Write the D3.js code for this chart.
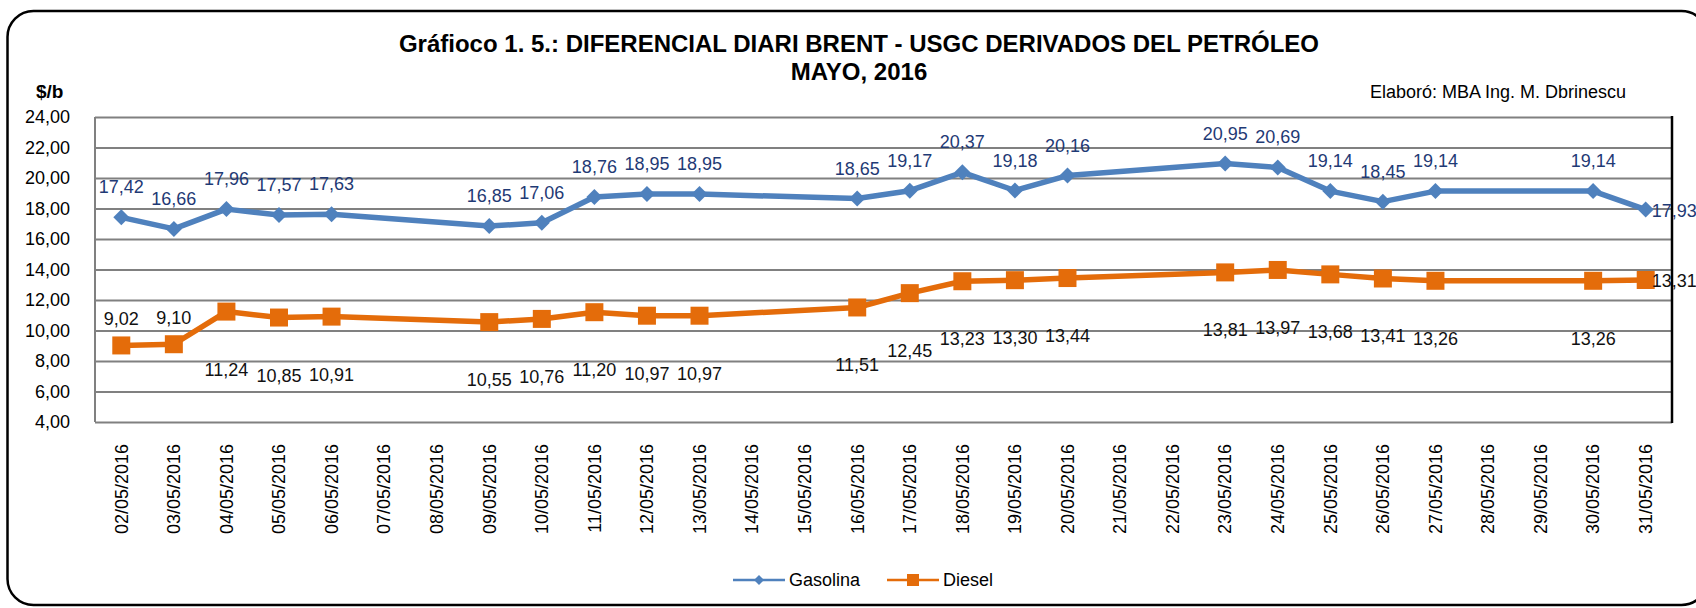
<!DOCTYPE html>
<html>
<head>
<meta charset="utf-8">
<script src="https://cdn.jsdelivr.net/npm/d3@7"></script>
<style>
  body { margin: 0; background: #fff; }
  svg { display: block; font-family: "Liberation Sans", Arial, sans-serif; }
  .grid line { stroke: #808080; stroke-width: 2; }
  .axis text { font-size: 18px; fill: #000; }
  .label { font-size: 18px; }
</style>
</head>
<body>
<svg id="chart"></svg>
<script>
// categories
const dates = [
  '02/05/2016','03/05/2016','04/05/2016','05/05/2016','06/05/2016','07/05/2016',
  '08/05/2016','09/05/2016','10/05/2016','11/05/2016','12/05/2016','13/05/2016',
  '14/05/2016','15/05/2016','16/05/2016','17/05/2016','18/05/2016','19/05/2016',
  '20/05/2016','21/05/2016','22/05/2016','23/05/2016','24/05/2016','25/05/2016',
  '26/05/2016','27/05/2016','28/05/2016','29/05/2016','30/05/2016','31/05/2016'
];

// series values (null = no quote that day, weekends)
const gasolina = [
  17.42, 16.66, 17.96, 17.57, 17.63, null, null, 16.85, 17.06, 18.76,
  18.95, 18.95, null, null, 18.65, 19.17, 20.37, 19.18, 20.16, null,
  null, 20.95, 20.69, 19.14, 18.45, 19.14, null, null, 19.14, 17.93
];
const diesel = [
  9.02, 9.10, 11.24, 10.85, 10.91, null, null, 10.55, 10.76, 11.20,
  10.97, 10.97, null, null, 11.51, 12.45, 13.23, 13.30, 13.44, null,
  null, 13.81, 13.97, 13.68, 13.41, 13.26, null, null, 13.26, 13.31
];

const yTicks = [4, 6, 8, 10, 12, 14, 16, 18, 20, 22, 24];

class LineChart {

  constructor(_config) {
    this.config = {
      parentElement: _config.parentElement,
      containerWidth: _config.containerWidth || 1696,
      containerHeight: _config.containerHeight || 608,
      margin: _config.margin || {top: 117, right: 24, bottom: 186, left: 95}
    }
    this.initVis();
  }

  initVis() {
    let vis = this;

    vis.width = vis.config.containerWidth - vis.config.margin.left - vis.config.margin.right;
    vis.height = vis.config.containerHeight - vis.config.margin.top - vis.config.margin.bottom;

    // comma as decimal separator
    vis.locale = d3.formatLocale({decimal: ',', thousands: '.', grouping: [3], currency: ['$', '']});
    vis.fmt = vis.locale.format('.2f');

    vis.xScale = d3.scaleBand()
        .domain(dates)
        .range([0, vis.width]);

    vis.yScale = d3.scaleLinear()
        .domain([4, 24])
        .range([vis.height, 0]);

    vis.svg = d3.select(vis.config.parentElement)
        .attr('width', vis.config.containerWidth)
        .attr('height', vis.config.containerHeight);

    // outer rounded frame
    vis.svg.append('rect')
        .attr('x', 7.5)
        .attr('y', 11)
        .attr('width', 1700)
        .attr('height', 594)
        .attr('rx', 26)
        .attr('fill', 'none')
        .attr('stroke', '#000')
        .attr('stroke-width', 2.5);

    // titles
    vis.svg.append('text')
        .attr('x', 859)
        .attr('y', 52)
        .attr('text-anchor', 'middle')
        .style('font-size', '24px')
        .style('font-weight', 'bold')
        .text('Gráfioco 1. 5.: DIFERENCIAL DIARI BRENT - USGC DERIVADOS DEL PETRÓLEO');

    vis.svg.append('text')
        .attr('x', 859)
        .attr('y', 80)
        .attr('text-anchor', 'middle')
        .style('font-size', '24px')
        .style('font-weight', 'bold')
        .text('MAYO, 2016');

    vis.svg.append('text')
        .attr('x', 1626)
        .attr('y', 98)
        .attr('text-anchor', 'end')
        .style('font-size', '18px')
        .text('Elaboró: MBA Ing. M. Dbrinescu');

    vis.svg.append('text')
        .attr('x', 36)
        .attr('y', 98)
        .style('font-size', '19px')
        .style('font-weight', 'bold')
        .text('$/b');

    vis.chart = vis.svg.append('g')
        .attr('transform', `translate(${vis.config.margin.left},${vis.config.margin.top})`);

    vis.yAxis = d3.axisLeft(vis.yScale)
        .tickValues(yTicks)
        .tickSize(-vis.width)
        .tickPadding(25)
        .tickFormat(vis.fmt);

    vis.xAxis = d3.axisBottom(vis.xScale)
        .tickSize(0);

    vis.yAxisG = vis.chart.append('g')
        .attr('class', 'axis grid y-axis');

    vis.xAxisG = vis.chart.append('g')
        .attr('class', 'axis x-axis')
        .attr('transform', `translate(0,${vis.height})`);

    vis.updateVis();
  }

  updateVis() {
    let vis = this;

    vis.xValue = d => vis.xScale(d.date) + vis.xScale.bandwidth() / 2;
    vis.yValue = d => vis.yScale(d.value);

    vis.series = [
      {name: 'Gasolina', values: gasolina, color: '#4F81BD', labelColor: '#1F3A75', symbol: 'diamond'},
      {name: 'Diesel', values: diesel, color: '#E46C0A', labelColor: '#111', symbol: 'square'}
    ].map(s => ({
      ...s,
      points: dates.map((date, i) => ({date, value: s.values[i], i})).filter(d => d.value != null)
    }));

    vis.renderVis();
  }

  renderVis() {
    let vis = this;

    vis.yAxisG
        .call(vis.yAxis)
        .call(g => g.select('.domain').remove())
        .call(g => g.selectAll('.tick line')
            .attr('stroke', d => d === 24 ? '#000' : '#808080'));

    vis.xAxisG
        .call(vis.xAxis)
        .call(g => g.select('.domain').remove())
        .selectAll('text')
        .attr('transform', 'rotate(-90)')
        .attr('x', -22)
        .attr('y', 0)
        .attr('dy', '0.35em')
        .style('text-anchor', 'end');

    // plot area frame: grey left axis, black right edge
    vis.chart.append('line')
        .attr('x1', 0).attr('x2', 0)
        .attr('y1', 0).attr('y2', vis.height)
        .attr('stroke', '#808080')
        .attr('stroke-width', 2);

    vis.chart.append('line')
        .attr('x1', vis.width).attr('x2', vis.width)
        .attr('y1', -1).attr('y2', vis.height + 1)
        .attr('stroke', '#000')
        .attr('stroke-width', 2.5);

    vis.chart.select('.y-axis .tick:last-of-type line')
        .attr('stroke-width', 2.5);

    const line = d3.line()
        .x(vis.xValue)
        .y(vis.yValue);

    const seriesG = vis.chart.selectAll('.series')
        .data(vis.series)
      .join('g')
        .attr('class', 'series');

    seriesG.append('path')
        .attr('d', d => line(d.points))
        .attr('fill', 'none')
        .attr('stroke', d => d.color)
        .attr('stroke-width', 5.5)
        .attr('stroke-linejoin', 'round');

    seriesG.each(function(s) {
      const g = d3.select(this);
      const sym = s.symbol === 'diamond'
          ? d3.symbol(d3.symbolSquare, 128)
          : d3.symbol(d3.symbolSquare, 324);

      g.selectAll('.marker')
          .data(s.points)
        .join('path')
          .attr('class', 'marker')
          .attr('d', sym)
          .attr('transform', d => `translate(${vis.xValue(d)},${vis.yValue(d)})` +
              (s.symbol === 'diamond' ? ' rotate(45)' : ''))
          .attr('fill', s.color);

      const last = s.points.length - 1;
      g.selectAll('.label')
          .data(s.points)
        .join('text')
          .attr('class', 'label')
          .attr('fill', s.labelColor)
          .attr('text-anchor', (d, i) => i === last ? 'start' : 'middle')
          .attr('x', (d, i) => i === last ? vis.xValue(d) + 6 : vis.xValue(d))
          .attr('y', (d, i) => {
            if (i === last) return vis.yValue(d) + 7;
            if (s.symbol === 'diamond') return vis.yValue(d) - 24;
            // first two diesel labels sit above the line
            return d.value < 10 ? vis.yValue(d) - 20 : vis.yValue(d) + 64;
          })
          .text(d => vis.fmt(d.value));
    });

    // legend
    const legend = vis.svg.append('g').attr('class', 'legend');
    const items = [
      {name: 'Gasolina', color: '#4F81BD', symbol: 'diamond', x: 733},
      {name: 'Diesel', color: '#E46C0A', symbol: 'square', x: 887}
    ];
    items.forEach(it => {
      const g = legend.append('g').attr('transform', `translate(${it.x},580)`);
      g.append('line')
          .attr('x1', 0).attr('x2', 52)
          .attr('stroke', it.color)
          .attr('stroke-width', 2.5);
      g.append('path')
          .attr('d', d3.symbol(d3.symbolSquare, it.symbol === 'diamond' ? 50 : 144))
          .attr('transform', `translate(26,0)` + (it.symbol === 'diamond' ? ' rotate(45)' : ''))
          .attr('fill', it.color);
      g.append('text')
          .attr('x', 56)
          .attr('y', 6)
          .style('font-size', '18px')
          .text(it.name);
    });
  }
}

new LineChart({parentElement: '#chart'});
</script>
</body>
</html>
